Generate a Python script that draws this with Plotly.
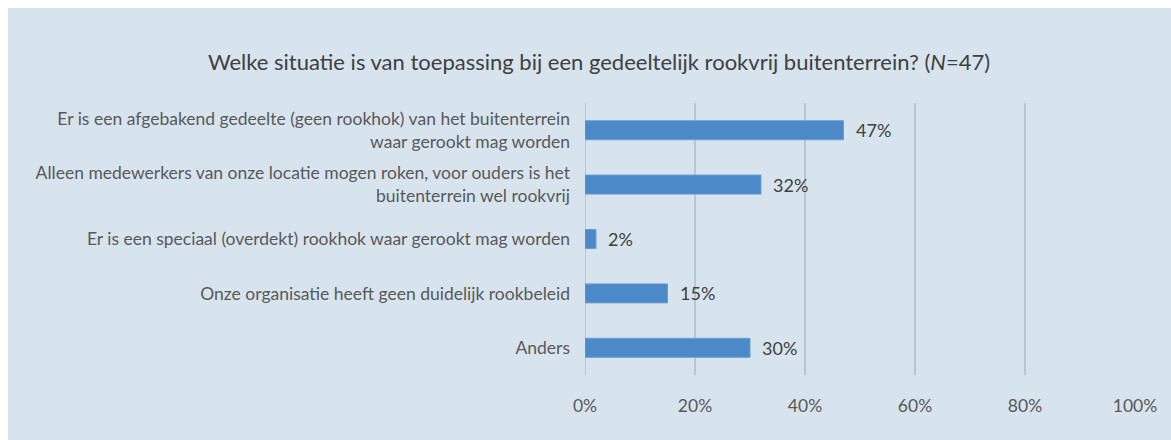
import plotly.graph_objects as go

categories = [
    "Er is een afgebakend gedeelte (geen rookhok) van het buitenterrein<br>waar gerookt mag worden",
    "Alleen medewerkers van onze locatie mogen roken, voor ouders is het<br>buitenterrein wel rookvrij",
    "Er is een speciaal (overdekt) rookhok waar gerookt mag worden",
    "Onze organisatie heeft geen duidelijk rookbeleid",
    "Anders",
]
values = [47, 32, 2, 15, 30]
value_labels = ["47%", "32%", "2%", "15%", "30%"]
tick_values = [0, 20, 40, 60, 80, 100]
tick_labels = ["0%", "20%", "40%", "60%", "80%", "100%"]

FONT = "Lato"
W, H = 1171, 440
L, R, T, B = 585, 36, 103, 65
pw, ph = W - L - R, H - T - B

fig = go.Figure()
fig.add_trace(go.Bar(
    x=values, y=categories, orientation="h",
    marker=dict(color="#4b89c8", line=dict(color="#6a9fd4", width=1)),
    width=0.35,
    hoverinfo="skip",
))

for v, c, t in zip(values, categories, value_labels):
    fig.add_annotation(x=v, y=c, text=t, showarrow=False, xanchor="left",
                       xshift=10, font=dict(family=FONT, size=18, color="#404040"))

fig.add_shape(type="rect", xref="paper", yref="paper", layer="below",
              x0=(8 - L) / pw, x1=(W - L) / pw,
              y0=-B / ph - 0.1, y1=(H - B - 8) / ph,
              fillcolor="#d7e4ee", line=dict(width=0))

fig.update_layout(
    width=W, height=H,
    margin=dict(l=L, r=R, t=T, b=B),
    paper_bgcolor="white",
    plot_bgcolor="rgba(0,0,0,0)",
    showlegend=False,
    title=dict(
        text="Welke situatie is van toepassing bij een gedeeltelijk rookvrij buitenterrein? (<i>N</i>=47)",
        x=599 / W, xref="container", xanchor="center",
        y=1 - 62 / H, yref="container", yanchor="middle",
        font=dict(family=FONT, size=22, color="#404040"),
    ),
    xaxis=dict(
        range=[0, 100], tickvals=tick_values, ticktext=tick_labels,
        showgrid=True, gridcolor="#bac6cf", gridwidth=2,
        zeroline=False, showline=False,
        tickfont=dict(family=FONT, size=17.5, color="#595959"),
        ticklabelstandoff=18, fixedrange=True,
    ),
    yaxis=dict(
        autorange="reversed", showgrid=False, showline=False, zeroline=False,
        tickfont=dict(family=FONT, size=17.5, color="#595959"),
        ticklabelstandoff=14, fixedrange=True,
    ),
)
fig.add_vline(x=0, line=dict(color="#bac6cf", width=2), layer="below")

fig.write_html("out.html", config={"displayModeBar": False})
